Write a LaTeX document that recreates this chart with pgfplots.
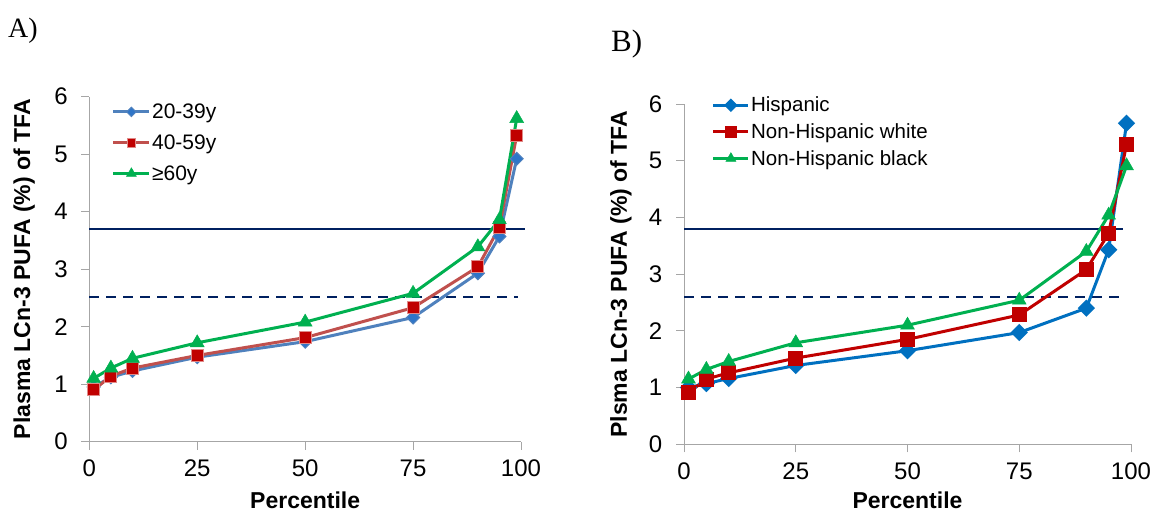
\documentclass[border=0pt]{standalone}
\usepackage{fontspec}
\setmainfont{Liberation Sans}
\newfontfamily\seriffont{Liberation Serif}
\usepackage{pgfplots}
\pgfplotsset{compat=1.18}

\definecolor{ablue}{HTML}{4F81BD}
\definecolor{ablueM}{HTML}{2E75C8}
\definecolor{ared}{HTML}{C0504D}
\definecolor{aredM}{HTML}{C00000}
\definecolor{aredB}{HTML}{E08A88}
\definecolor{bblue}{HTML}{0070C0}
\definecolor{bred}{HTML}{C00000}
\definecolor{sgreen}{HTML}{00B050}
\definecolor{navy}{HTML}{002060}
\definecolor{axgray}{HTML}{A6A6A6}

\pgfplotsset{
  pctaxis/.style={
    scale only axis,
    xmin=0, xmax=100, ymin=0, ymax=6,
    axis x line*=bottom, axis y line*=left,
    axis line style={draw=axgray, line width=1pt},
    xtick={0,25,50,75,100}, ytick={0,1,2,3,4,5,6},
    tick align=outside, major tick length=8pt,
    tick style={draw=axgray, line width=1pt},
    /pgf/number format/assume math mode=true,
    ticklabel style={font=\fontsize{24}{24}\selectfont},
    xticklabel style={anchor=north, inner sep=0pt, yshift=-10pt},
    yticklabel style={anchor=east, inner sep=0pt, xshift=-13.5pt},
    label style={font=\bfseries\fontsize{23}{23}\selectfont},
    xlabel={Percentile},
    clip=false,
    legend cell align=left,
  },
  refsolid/.style={navy, line width=2pt, forget plot},
  refdash/.style={navy, line width=2pt, dash pattern=on 10pt off 7pt, forget plot},
}

\begin{document}
\begin{tikzpicture}
\path[use as bounding box] (0,0) rectangle (1151pt,513pt);

\node[anchor=base west, inner sep=0pt, font=\seriffont\fontsize{28}{28}\selectfont] at (8pt,475.7pt) {A)};
\node[anchor=base west, inner sep=0pt, font=\seriffont\fontsize{31}{31}\selectfont] at (611pt,461.3pt) {B)};

% Panel A: by age group
\begin{axis}[pctaxis,
    at={(89.3pt,71.3pt)}, anchor=south west,
    width=431.7pt, height=345pt,
    ylabel={Plasma LCn-3 PUFA (\%) of TFA},
    ylabel style={at={(axis description cs:-0.151,0.5)}, anchor=center},
    xlabel style={at={(axis description cs:0.5,-0.169)}, anchor=center},
    legend image code/.code={\draw[mark repeat=2,mark phase=2,#1,every mark/.append style={scale=0.72}] plot coordinates {(0pt,0pt) (18pt,0pt) (36pt,0pt)};},
    legend style={at={(axis description cs:0.0519,1.001)}, anchor=north west,
      draw=none, fill=none, inner sep=0pt, row sep=0pt,
      font=\fontsize{21}{21}\selectfont,
      nodes={inner sep=1.2pt, minimum height=30.8pt}},
  ]
  \addplot[refsolid] coordinates {(0,3.70) (101,3.70)};
  \addplot[refdash] coordinates {(0,2.52) (99.3,2.52)};

  \addplot[color=ablue, line width=3pt, mark=square*, mark size=4.6pt,
    mark options={solid, rotate=45, fill=ablueM, draw=ablue, line width=1pt}]
  coordinates {
    (1,0.95) (5,1.12) (10,1.23) (25,1.47) (50,1.74)
    (75,2.16) (90,2.93) (95,3.57) (99,4.92)
  };
  \addlegendentry{20-39y}

  \addplot[color=ared, line width=3pt, mark=square*, mark size=6pt,
    mark options={solid, fill=aredM, draw=aredB, line width=1pt}]
  coordinates {
    (1,0.90) (5,1.14) (10,1.28) (25,1.50) (50,1.81)
    (75,2.33) (90,3.04) (95,3.73) (99,5.33)
  };
  \addlegendentry{40-59y}

  \addplot[color=sgreen, line width=3pt, mark=triangle*, mark size=8pt,
    mark options={solid, fill=sgreen, draw=sgreen, line width=0.5pt}]
  coordinates {
    (1,1.10) (5,1.28) (10,1.45) (25,1.72) (50,2.08)
    (75,2.58) (90,3.39) (95,3.86) (99,5.62)
  };
  \addlegendentry{≥60y}
\end{axis}

% Panel B: by race/ethnicity
\begin{axis}[pctaxis,
    at={(684pt,68.7pt)}, anchor=south west,
    width=447pt, height=340.3pt,
    ylabel={Plsma LCn-3 PUFA (\%) of TFA},
    ylabel style={at={(axis description cs:-0.141,0.5)}, anchor=center},
    xlabel style={at={(axis description cs:0.5,-0.164)}, anchor=center},
    legend image code/.code={\draw[mark repeat=2,mark phase=2,#1,every mark/.append style={scale=0.72}] plot coordinates {(0pt,0pt) (17.5pt,0pt) (35pt,0pt)};},
    legend style={at={(axis description cs:0.062,1.036)}, anchor=north west,
      draw=none, fill=none, inner sep=0pt, row sep=0pt,
      font=\fontsize{20.5}{20.5}\selectfont,
      nodes={inner sep=1.2pt, minimum height=26.6pt}},
  ]
  \addplot[refsolid] coordinates {(0,3.80) (98.1,3.80)};
  \addplot[refdash] coordinates {(0,2.60) (97.5,2.60)};

  \addplot[color=bblue, line width=3pt, mark=square*, mark size=4.6pt,
    mark options={solid, rotate=45, fill=bblue, draw=bblue}]
  coordinates {
    (1,1.00) (5,1.07) (10,1.16) (25,1.39) (50,1.65)
    (75,1.97) (90,2.40) (95,3.43) (99,5.66)
  };
  \addlegendentry{Hispanic}

  \addplot[color=bred, line width=3pt, mark=square*, mark size=6pt,
    mark options={solid, fill=bred, draw=bred}]
  coordinates {
    (1,0.91) (5,1.15) (10,1.26) (25,1.52) (50,1.85)
    (75,2.28) (90,3.08) (95,3.72) (99,5.29)
  };
  \addlegendentry{Non-Hispanic white}

  \addplot[color=sgreen, line width=3pt, mark=triangle*, mark size=8pt,
    mark options={solid, fill=sgreen, draw=sgreen, line width=0.5pt}]
  coordinates {
    (1,1.15) (5,1.32) (10,1.46) (25,1.79) (50,2.10)
    (75,2.54) (90,3.40) (95,4.04) (99,4.91)
  };
  \addlegendentry{Non-Hispanic black}
\end{axis}
\end{tikzpicture}
\end{document}
